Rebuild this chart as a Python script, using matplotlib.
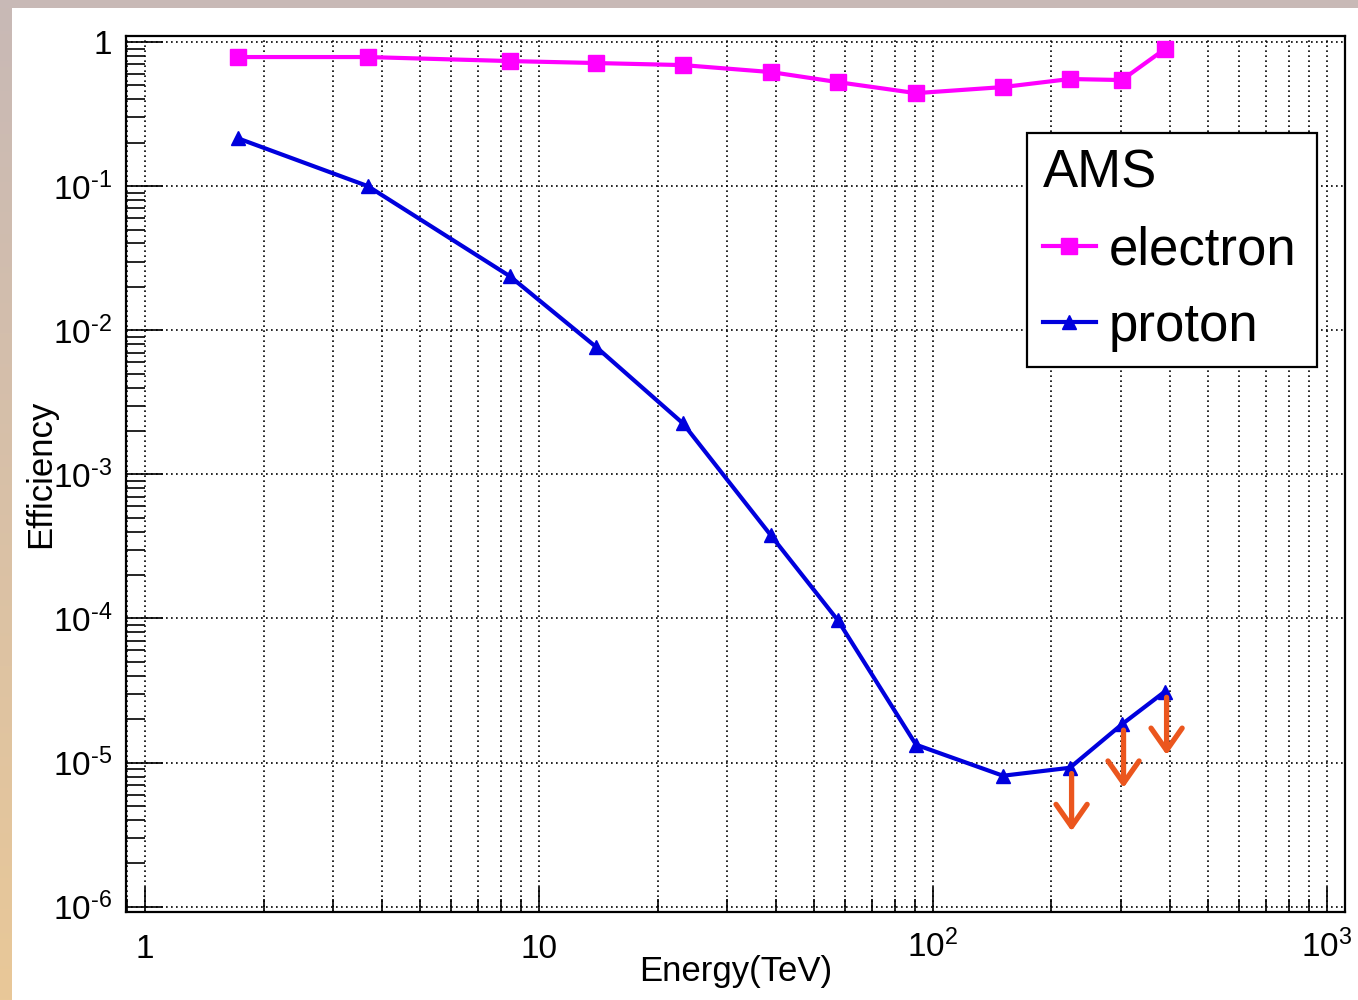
import numpy as np
import matplotlib
matplotlib.use('Agg')
import matplotlib.pyplot as plt
from matplotlib.ticker import LogLocator, NullFormatter

plt.rcParams['font.family'] = ['Liberation Sans', 'DejaVu Sans']
plt.rcParams['mathtext.fontset'] = 'custom'
plt.rcParams['mathtext.rm'] = 'Liberation Sans'
plt.rcParams['mathtext.default'] = 'regular'

# data
energy = [1.72, 3.68, 8.44, 14.0, 23.2, 38.8, 57.4, 90.6, 150.6, 222.7, 301.7, 388.0]
eff_electron = [0.787, 0.787, 0.738, 0.715, 0.692, 0.619, 0.527, 0.442, 0.487, 0.554, 0.545, 0.894]
eff_proton = [0.215, 0.100, 0.0237, 0.00762, 0.00226, 3.77e-4, 9.7e-5, 1.33e-5,
              8.1e-6, 9.2e-6, 1.84e-5, 3.11e-5]
upper_limit_idx = [9, 10, 11]   # proton points drawn with down arrows

x_ticks = [1, 10, 100, 1000]
x_tick_labels = ['1', '10', r'$10^{2}$', r'$10^{3}$']
y_ticks = [1e-6, 1e-5, 1e-4, 1e-3, 1e-2, 1e-1, 1]
y_tick_labels = [r'$10^{\text{-}6}$', r'$10^{\text{-}5}$', r'$10^{\text{-}4}$',
                 r'$10^{\text{-}3}$', r'$10^{\text{-}2}$', r'$10^{\text{-}1}$', '1']

W, H = 1358, 1000
fig = plt.figure(figsize=(W / 100, H / 100), dpi=100)

# slide-like background border (top band + left gradient strip)
bg = np.ones((H, W, 3))
top_col = np.array([200, 185, 182]) / 255
bot_col = np.array([233, 200, 152]) / 255
t = np.linspace(0, 1, H)[:, None]
bg[:, :12, :] = (top_col * (1 - t) + bot_col * t)[:, None, :]
bg[:8, :, :] = top_col
bax = fig.add_axes([0, 0, 1, 1], zorder=-10)
bax.imshow(bg, aspect='auto', extent=(0, 1, 0, 1))
bax.axis('off')

ax = fig.add_axes([126 / W, 1 - 911.7 / H, (1345 - 126) / W, (911.7 - 36) / H])
ax.set_xscale('log')
ax.set_yscale('log')
ax.set_xlim(10 ** -0.048, 10 ** 3.046)
ax.set_ylim(10 ** -6.035, 10 ** 0.042)

ax.plot(energy, eff_electron, '-s', color='#ff00ff', lw=3, ms=11, label='electron')
ax.plot(energy, eff_proton, '-^', color='#0000dd', lw=3, ms=10, label='proton')

for i in upper_limit_idx:
    ax.annotate('', xy=(energy[i] * 1.01, eff_proton[i] * 10 ** -0.44),
                xytext=(energy[i] * 1.01, eff_proton[i] * 10 ** -0.04),
                arrowprops=dict(arrowstyle='->,head_length=0.4,head_width=0.28',
                                color='#eb561e', lw=3.8, mutation_scale=40,
                                shrinkA=0, shrinkB=0))

ax.set_xticks(x_ticks, x_tick_labels)
ax.set_yticks(y_ticks, y_tick_labels)
ax.xaxis.set_minor_locator(LogLocator(base=10, subs=np.arange(2, 10), numticks=20))
ax.yaxis.set_minor_locator(LogLocator(base=10, subs=np.arange(2, 10), numticks=20))
ax.xaxis.set_minor_formatter(NullFormatter())
ax.yaxis.set_minor_formatter(NullFormatter())

ax.tick_params(axis='x', which='major', direction='in', length=18, width=1.2,
               labelsize=24, pad=33, top=False)
ax.tick_params(axis='x', which='minor', direction='in', length=9.5, width=1.2, top=False)
ax.tick_params(axis='y', which='major', direction='in', length=26.5, width=1.2,
               labelsize=24, pad=10, right=False)
ax.tick_params(axis='y', which='minor', direction='in', length=13.5, width=1.2, right=False)
for tk in ax.xaxis.get_major_ticks():
    tk.label1.set_verticalalignment('baseline')

ax.xaxis.grid(True, which='both', color='black', lw=1.2, ls=(0, (1, 2)))
ax.yaxis.grid(True, which='major', color='black', lw=1.2, ls=(0, (1, 2)))
for s in ax.spines.values():
    s.set_linewidth(1.6)

ax.set_xlabel('Energy(TeV)', fontsize=25)
ax.xaxis.set_label_coords(0.5, -0.0494)
ax.set_ylabel('Efficiency', fontsize=25)
ax.yaxis.set_label_coords(-0.0566, 0.5)

leg = ax.legend(title='AMS', loc='upper left',
                bbox_to_anchor=(1027 / W, 1 - 367 / H, 290 / W, 234 / H),
                bbox_transform=fig.transFigure, mode='expand',
                fontsize=38, title_fontsize=38, fancybox=False, framealpha=1,
                edgecolor='black', borderpad=0.3, handlelength=1.0,
                handletextpad=0.25, labelspacing=0.5, alignment='left',
                borderaxespad=0)
leg.get_frame().set_linewidth(1.6)

fig.savefig('out.png', dpi=100)
